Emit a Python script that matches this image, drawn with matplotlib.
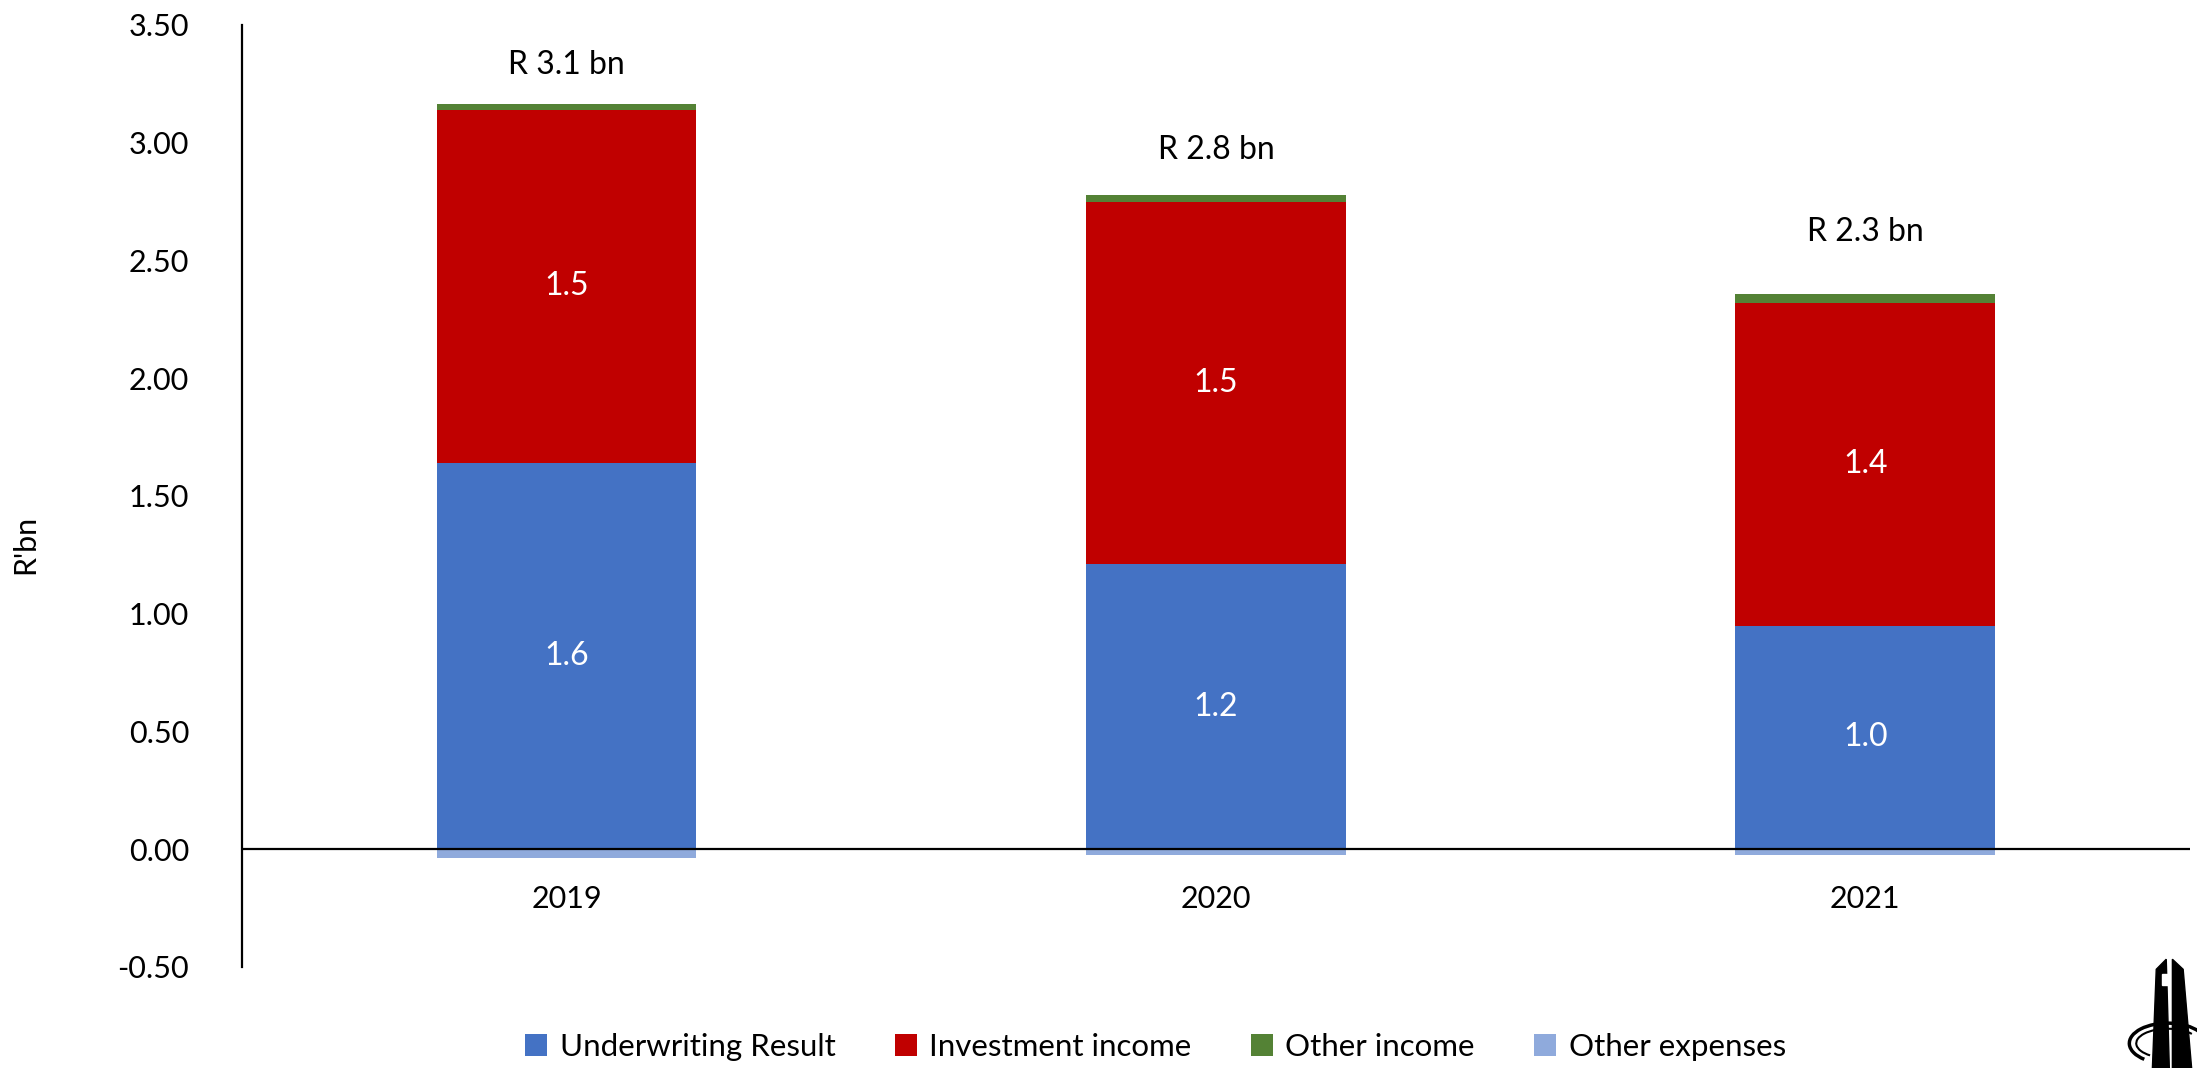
import matplotlib
matplotlib.use("Agg")
import matplotlib.pyplot as plt
import numpy as np
from matplotlib.patches import Polygon, Arc

plt.rcParams['font.family'] = ['Lato', 'DejaVu Sans']

years = ["2019", "2020", "2021"]
underwriting = [1.64, 1.21, 0.95]
investment = [1.50, 1.54, 1.37]
other_income = [0.023, 0.027, 0.038]
other_expenses = [-0.038, -0.025, -0.025]
totals = [3.1, 2.8, 2.3]
total_label_y = [3.33, 2.97, 2.62]
seg_labels_uw = ["1.6", "1.2", "1.0"]
seg_labels_inv = ["1.5", "1.5", "1.4"]
yticks = [-0.5, 0.0, 0.5, 1.0, 1.5, 2.0, 2.5, 3.0, 3.5]

C_UW = "#4472C4"
C_INV = "#C00000"
C_OI = "#548235"
C_OE = "#8FAADC"

fig = plt.figure(figsize=(21.97, 10.68), dpi=100)
ax = fig.add_axes([0.1101, 0.0946, 0.8867, 0.882])

x = np.arange(len(years))
w = 0.4
uw = np.array(underwriting)
inv = np.array(investment)
oi = np.array(other_income)
oe = np.array(other_expenses)

ax.bar(x, uw, w, color=C_UW, label="Underwriting Result", zorder=2)
ax.bar(x, inv, w, bottom=uw, color=C_INV, label="Investment income", zorder=2)
ax.bar(x, oi, w, bottom=uw + inv, color=C_OI, label="Other income", zorder=2)
ax.bar(x, oe, w, color=C_OE, label="Other expenses", zorder=2)

for i in range(len(years)):
    ax.text(x[i], uw[i] / 2, seg_labels_uw[i], ha="center", va="center",
            color="white", fontsize=23, zorder=3)
    ax.text(x[i], uw[i] + inv[i] / 2, seg_labels_inv[i], ha="center", va="center",
            color="white", fontsize=23, zorder=3)
    ax.text(x[i], total_label_y[i], f"R {totals[i]:.1f} bn", ha="center", va="center",
            color="black", fontsize=23, zorder=3)
    ax.text(x[i], -0.21, years[i], ha="center", va="center",
            color="black", fontsize=22)

ax.axhline(0, color="black", lw=1.6, zorder=4)

ax.set_xlim(-0.5, 2.5)
ax.set_ylim(-0.5, 3.5)
ax.set_yticks(yticks)
ax.set_yticklabels([f"{v:.2f}" for v in yticks], fontsize=22)
ax.set_xticks([])
ax.tick_params(axis="y", length=0, pad=38)
for s in ["top", "right", "bottom"]:
    ax.spines[s].set_visible(False)
ax.spines["left"].set_linewidth(1.6)
ax.spines["left"].set_color("black")

fig.text(0.0115, 0.49, "R'bn", rotation=90, ha="center", va="center", fontsize=22)

handles, labels = ax.get_legend_handles_labels()
fig.legend(handles, labels, loc="center", bbox_to_anchor=(0.526, 0.02), ncol=4,
           frameon=False, fontsize=22.5, handlelength=0.7, handleheight=0.7,
           handletextpad=0.4, columnspacing=1.9)

# monument emblem in the lower right corner
emb = fig.add_axes([0.965, 0.0, 0.035, 0.105])
emb.set_xlim(0, 1)
emb.set_ylim(0, 1)
emb.axis("off")
emb.add_patch(Arc((0.62, 0.22), 1.0, 0.36, theta1=15, theta2=205, lw=2.5, color="black"))
emb.add_patch(Arc((0.62, 0.22), 0.82, 0.26, theta1=15, theta2=205, lw=1.5, color="black"))
emb.add_patch(Polygon([[0.42, 0.0], [0.47, 0.88], [0.6, 0.97], [0.64, 0.0]], color="black"))
emb.add_patch(Polygon([[0.68, 0.0], [0.68, 0.97], [0.82, 0.88], [0.93, 0.0]], color="black"))
emb.add_patch(Polygon([[0.55, 0.74], [0.55, 0.84], [0.62, 0.84], [0.62, 0.74]], color="white"))

fig.savefig("out.png", dpi=100, facecolor="white")
